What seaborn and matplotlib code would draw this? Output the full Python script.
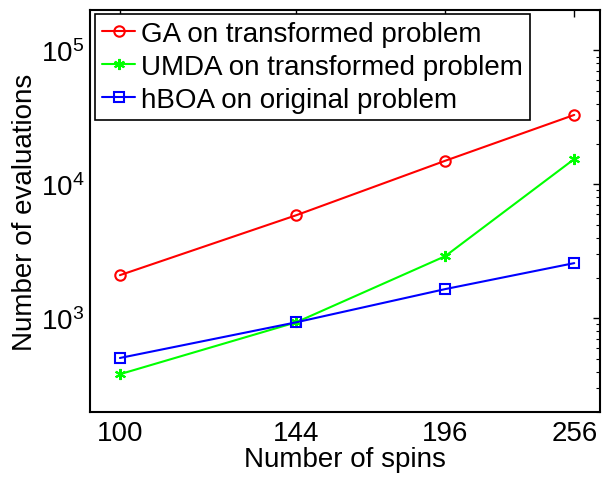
import matplotlib
matplotlib.use("Agg")
import matplotlib.pyplot as plt
import matplotlib.ticker as mticker
import seaborn as sns
import pandas as pd

spins = [100, 144, 196, 256]
ga = [2100, 5880, 15000, 33000]
umda = [383, 934, 2910, 15460]
hboa = [506, 934, 1653, 2584]
labels = ["GA on transformed problem", "UMDA on transformed problem", "hBOA on original problem"]

sns.set_theme(style="white")
plt.rcParams['font.family'] = ['Liberation Sans', 'DejaVu Sans']
plt.rcParams['mathtext.fontset'] = 'custom'
plt.rcParams['mathtext.rm'] = 'Liberation Sans'
plt.rcParams['mathtext.it'] = 'Liberation Sans'
plt.rcParams['text.color'] = 'black'
plt.rcParams['axes.labelcolor'] = 'black'
plt.rcParams['xtick.color'] = 'black'
plt.rcParams['ytick.color'] = 'black'

FS = 20

fig = plt.figure(figsize=(6.11, 4.81), dpi=100)
ax = fig.add_axes([0.1473, 0.1414, 0.982 - 0.1473, 0.977 - 0.1414])

df = pd.DataFrame({"spins": spins, "GA": ga, "UMDA": umda, "hBOA": hboa})
specs = [("GA", "#ff0000", "o", 7.5), ("UMDA", "#00ff00", (6, 2, 0), 8), ("hBOA", "#0000ff", "s", 6.5)]
for (col, color, mk, ms), lab in zip(specs, labels):
    sns.lineplot(data=df, x="spins", y=col, ax=ax, color=color, marker=mk, markersize=ms,
                 markerfacecolor="none", markeredgecolor=color, markeredgewidth=1.5,
                 linewidth=1.5, label=lab)

ax.set_xscale("log")
ax.set_yscale("log")
ax.set_xlim(94, 270)
ax.set_ylim(200, 2e5)
ax.xaxis.set_major_locator(mticker.FixedLocator(spins))
ax.xaxis.set_major_formatter(mticker.FixedFormatter([str(s) for s in spins]))
ax.xaxis.set_minor_locator(mticker.NullLocator())
ax.yaxis.set_major_locator(mticker.LogLocator(base=10))
ax.yaxis.set_minor_locator(mticker.LogLocator(base=10, subs=range(2, 10)))
ax.yaxis.set_minor_formatter(mticker.NullFormatter())

ax.tick_params(which="both", direction="in", top=True, right=True, labelsize=FS,
               color="black", labelcolor="black")
ax.tick_params(which="major", length=5, width=1)
ax.tick_params(which="minor", length=3, width=0.8)
ax.tick_params(axis="x", pad=6)
ax.tick_params(axis="y", pad=4)
for sp in ax.spines.values():
    sp.set_color("black")
    sp.set_linewidth(1.5)

ax.set_xlabel("Number of spins", fontsize=FS, labelpad=0, color="black")
ax.set_ylabel("Number of evaluations", fontsize=FS, labelpad=2, color="black")

leg = ax.legend(loc="upper left", bbox_to_anchor=(0.01, 0.99), fontsize=FS, handlelength=1.2,
                handletextpad=0.2, borderaxespad=0.0, borderpad=0.25, labelspacing=0.25,
                frameon=True, fancybox=False, framealpha=1.0, edgecolor="black")
leg.get_frame().set_edgecolor("black")
leg.get_frame().set_linewidth(1.2)
for t in leg.get_texts():
    t.set_color("black")

fig.savefig("out.png", dpi=100)
